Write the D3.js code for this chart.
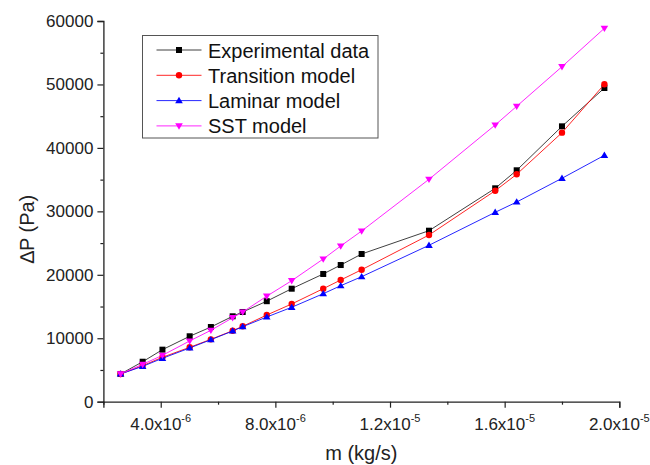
<!DOCTYPE html>
<html>
<head>
<meta charset="utf-8">
<script src="https://cdn.jsdelivr.net/npm/d3@7/dist/d3.min.js"></script>
<style>
  html, body { margin: 0; padding: 0; background: #fff; }
  svg { display: block; font-family: "Liberation Sans", Arial, sans-serif; }
</style>
</head>
<body>
<svg id="chart" width="650" height="465"></svg>
<script>
// ---- data (mass flow in kg/s, pressure drop in Pa) ----
const massFlow = [2.60e-6, 3.37e-6, 4.06e-6, 5.01e-6, 5.75e-6, 6.51e-6, 6.86e-6, 7.70e-6, 8.57e-6,
                  9.67e-6, 10.28e-6, 11.01e-6, 13.36e-6, 15.67e-6, 16.42e-6, 18.00e-6, 19.48e-6];
const experimental = [4370, 6300, 8200, 10310, 11770, 13460, 14140, 15840, 17810,
                      20130, 21540, 23280, 26950, 33630, 36470, 43400, 49440];
const transition   = [4370, 5680, 7000, 8570, 9830, 11190, 11880, 13660, 15400,
                      17810, 19180, 20800, 26270, 33250, 35840, 42400, 50020];
const laminar      = [4370, 5570, 6840, 8460, 9770, 11140, 11820, 13350, 14880,
                      17020, 18280, 19700, 24650, 29850, 31470, 35210, 38830];
const sst          = [4370, 5890, 7310, 9570, 11250, 13240, 14140, 16630, 19070,
                      22490, 24540, 26900, 35050, 43610, 46560, 52800, 58850];
const seriesNames = ["Experimental data", "Transition model", "Laminar model", "SST model"];
const xTicks = [4e-6, 8e-6, 1.2e-5, 1.6e-5, 2e-5];
const xMinorTicks = [2e-6, 6e-6, 1e-5, 1.4e-5, 1.8e-5];
const yTicks = [0, 10000, 20000, 30000, 40000, 50000, 60000];
const yMinorTicks = [5000, 15000, 25000, 35000, 45000, 55000];

const seriesValues = [experimental, transition, laminar, sst];
const colors = ["#000000", "#ff0000", "#0000ff", "#ff00ff"];
const markers = ["square", "circle", "up", "down"];

const svg = d3.select("#chart");
const pLeft = 103.4, pRight = 619.3, pTop = 21, pBottom = 401.7;
const x = d3.scaleLinear().domain([2e-6, 2e-5]).range([pLeft, pRight]);
const y = d3.scaleLinear().domain([0, 60000]).range([pBottom, pTop]);

const axisColor = "#222";

// ---- axes ----
const gx = svg.append("g").attr("transform", `translate(0,${pBottom})`);
gx.call(d3.axisBottom(x).tickValues(xTicks).tickSize(6).tickFormat(""));
const gxm = gx.append("g").call(d3.axisBottom(x).tickValues(xMinorTicks).tickSize(3).tickFormat(""));
gxm.select(".domain").remove();
gx.selectAll(".domain").attr("stroke", axisColor).attr("stroke-width", 1.3);
gx.selectAll(".tick line").attr("stroke", axisColor).attr("stroke-width", 1.2);

const gy = svg.append("g").attr("transform", `translate(${pLeft},0)`);
gy.call(d3.axisLeft(y).tickValues(yTicks).tickSize(6).tickFormat(""));
const gym = gy.append("g").call(d3.axisLeft(y).tickValues(yMinorTicks).tickSize(3).tickFormat(""));
gym.select(".domain").remove();
gy.selectAll(".domain").attr("stroke", axisColor).attr("stroke-width", 1.3);
gy.selectAll(".tick line").attr("stroke", axisColor).attr("stroke-width", 1.2);

// tick labels
yTicks.forEach(v => {
  svg.append("text")
    .attr("x", pLeft - 10).attr("y", y(v) + 6)
    .attr("text-anchor", "end").attr("font-size", 17).attr("fill", "#222")
    .text(d3.format("d")(v));
});
xTicks.forEach(v => {
  const exp = Math.floor(Math.log10(v) + 1e-9);
  const mant = v / Math.pow(10, exp);
  const t = svg.append("text")
    .attr("x", x(v)).attr("y", pBottom + 28)
    .attr("text-anchor", "middle").attr("font-size", 17).attr("fill", "#222");
  t.append("tspan").text(mant.toFixed(1) + "x10");
  t.append("tspan").attr("dy", -8).attr("font-size", 11).text(String(exp));
});

// axis titles
svg.append("text")
  .attr("x", (pLeft + pRight) / 2).attr("y", 460)
  .attr("text-anchor", "middle").attr("font-size", 20).attr("fill", "#222")
  .text("m (kg/s)");
svg.append("text")
  .attr("transform", `translate(34,229) rotate(-90)`)
  .attr("text-anchor", "middle").attr("font-size", 20).attr("fill", "#222")
  .text("\u2206P (Pa)");

// ---- markers ----
function drawMarker(g, type, color, cx, cy) {
  if (type === "square") {
    g.append("rect").attr("x", cx - 3).attr("y", cy - 3).attr("width", 6).attr("height", 6).attr("fill", color);
  } else if (type === "circle") {
    g.append("circle").attr("cx", cx).attr("cy", cy).attr("r", 3.2).attr("fill", color);
  } else if (type === "up") {
    g.append("path").attr("d", `M${cx},${cy - 3.8}L${cx + 3.8},${cy + 2.6}L${cx - 3.8},${cy + 2.6}Z`).attr("fill", color);
  } else {
    g.append("path").attr("d", `M${cx},${cy + 3.8}L${cx + 3.8},${cy - 2.6}L${cx - 3.8},${cy - 2.6}Z`).attr("fill", color);
  }
}

// ---- series ----
const line = d3.line().x(d => x(d[0])).y(d => y(d[1]));
seriesValues.forEach((vals, si) => {
  const pts = massFlow.map((m, i) => [m, vals[i]]);
  const g = svg.append("g");
  g.append("path").datum(pts).attr("d", line)
    .attr("fill", "none").attr("stroke", colors[si]).attr("stroke-width", 1)
    .attr("stroke-opacity", si === 0 ? 0.75 : 0.85);
  pts.forEach(p => drawMarker(g, markers[si], colors[si], x(p[0]), y(p[1])));
});

// ---- legend ----
const lg = svg.append("g");
lg.append("rect").attr("x", 142.5).attr("y", 35.5).attr("width", 235.5).attr("height", 102.5)
  .attr("fill", "#fff").attr("stroke", "#555").attr("stroke-width", 1);
seriesNames.forEach((name, i) => {
  const cy = 50 + i * 25.3;
  lg.append("line").attr("x1", 156.5).attr("x2", 201.5).attr("y1", cy).attr("y2", cy)
    .attr("stroke", colors[i]).attr("stroke-width", 1).attr("stroke-opacity", i === 0 ? 0.75 : 0.85);
  drawMarker(lg, markers[i], colors[i], 179, cy);
  lg.append("text").attr("x", 208).attr("y", cy + 7.5)
    .attr("font-size", 20).attr("fill", "#111").text(name);
});
</script>
</body>
</html>
